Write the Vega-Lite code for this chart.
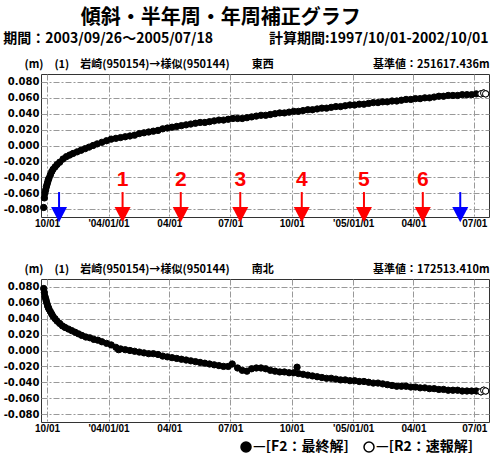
{
  "$schema": "https://vega.github.io/schema/vega-lite/v6.json",
  "padding": {"left": 2, "top": 7, "right": 0, "bottom": 0},
  "background": "white",
  "title": {
    "text": "傾斜・半年周・年周補正グラフ",
    "anchor": "start", "frame": "bounds", "dx": 78,
    "font": "Noto Sans CJK JP", "fontSize": 20, "fontWeight": "bold", "color": "black",
    "offset": 4
  },
  "datasets": {
    "arrows": [
      {"d": "2003-10-19", "k": "edge"},
      {"d": "2004-01-22", "k": "num", "n": "1"},
      {"d": "2004-04-18", "k": "num", "n": "2"},
      {"d": "2004-07-16", "k": "num", "n": "3"},
      {"d": "2004-10-16", "k": "num", "n": "4"},
      {"d": "2005-01-17", "k": "num", "n": "5"},
      {"d": "2005-04-15", "k": "num", "n": "6"},
      {"d": "2005-06-10", "k": "edge"}
    ],
    "ew": [
      {"d":"2003-09-26","v":-0.078,"s":"F2"},{"d":"2003-09-27","v":-0.066,"s":"F2"},{"d":"2003-09-28","v":-0.060,"s":"F2"},{"d":"2003-09-29","v":-0.056,"s":"F2"},{"d":"2003-09-30","v":-0.052,"s":"F2"},{"d":"2003-10-01","v":-0.049,"s":"F2"},{"d":"2003-10-02","v":-0.046,"s":"F2"},{"d":"2003-10-03","v":-0.043,"s":"F2"},{"d":"2003-10-04","v":-0.041,"s":"F2"},{"d":"2003-10-06","v":-0.037,"s":"F2"},{"d":"2003-10-08","v":-0.033,"s":"F2"},{"d":"2003-10-10","v":-0.030,"s":"F2"},{"d":"2003-10-13","v":-0.027,"s":"F2"},{"d":"2003-10-16","v":-0.024,"s":"F2"},{"d":"2003-10-20","v":-0.021,"s":"F2"},{"d":"2003-10-25","v":-0.017,"s":"F2"},{"d":"2003-10-30","v":-0.014,"s":"F2"},{"d":"2003-11-04","v":-0.012,"s":"F2"},{"d":"2003-11-09","v":-0.010,"s":"F2"},{"d":"2003-11-15","v":-0.008,"s":"F2"},{"d":"2003-11-21","v":-0.006,"s":"F2"},{"d":"2003-11-27","v":-0.004,"s":"F2"},{"d":"2003-12-03","v":-0.002,"s":"F2"},{"d":"2003-12-09","v":0.000,"s":"F2"},{"d":"2003-12-15","v":0.002,"s":"F2"},{"d":"2003-12-22","v":0.004,"s":"F2"},{"d":"2003-12-29","v":0.006,"s":"F2"},{"d":"2004-01-05","v":0.008,"s":"F2"},{"d":"2004-01-12","v":0.009,"s":"F2"},{"d":"2004-01-19","v":0.010,"s":"F2"},{"d":"2004-01-26","v":0.011,"s":"F2"},{"d":"2004-02-02","v":0.012,"s":"F2"},{"d":"2004-02-09","v":0.013,"s":"F2"},{"d":"2004-02-16","v":0.015,"s":"F2"},{"d":"2004-02-23","v":0.016,"s":"F2"},{"d":"2004-03-01","v":0.017,"s":"F2"},{"d":"2004-03-08","v":0.018,"s":"F2"},{"d":"2004-03-15","v":0.019,"s":"F2"},{"d":"2004-03-22","v":0.021,"s":"F2"},{"d":"2004-03-29","v":0.022,"s":"F2"},{"d":"2004-04-05","v":0.023,"s":"F2"},{"d":"2004-04-12","v":0.024,"s":"F2"},{"d":"2004-04-19","v":0.025,"s":"F2"},{"d":"2004-04-26","v":0.026,"s":"F2"},{"d":"2004-05-03","v":0.027,"s":"F2"},{"d":"2004-05-10","v":0.028,"s":"F2"},{"d":"2004-05-17","v":0.029,"s":"F2"},{"d":"2004-05-24","v":0.029,"s":"F2"},{"d":"2004-05-31","v":0.030,"s":"F2"},{"d":"2004-06-07","v":0.031,"s":"F2"},{"d":"2004-06-14","v":0.032,"s":"F2"},{"d":"2004-06-21","v":0.032,"s":"F2"},{"d":"2004-06-28","v":0.033,"s":"F2"},{"d":"2004-07-05","v":0.034,"s":"F2"},{"d":"2004-07-12","v":0.034,"s":"F2"},{"d":"2004-07-19","v":0.034,"s":"F2"},{"d":"2004-07-26","v":0.035,"s":"F2"},{"d":"2004-08-02","v":0.036,"s":"F2"},{"d":"2004-08-09","v":0.037,"s":"F2"},{"d":"2004-08-16","v":0.038,"s":"F2"},{"d":"2004-08-23","v":0.038,"s":"F2"},{"d":"2004-08-30","v":0.039,"s":"F2"},{"d":"2004-09-06","v":0.040,"s":"F2"},{"d":"2004-09-13","v":0.041,"s":"F2"},{"d":"2004-09-20","v":0.041,"s":"F2"},{"d":"2004-09-27","v":0.042,"s":"F2"},{"d":"2004-10-04","v":0.043,"s":"F2"},{"d":"2004-10-11","v":0.043,"s":"F2"},{"d":"2004-10-18","v":0.044,"s":"F2"},{"d":"2004-10-25","v":0.045,"s":"F2"},{"d":"2004-11-01","v":0.045,"s":"F2"},{"d":"2004-11-08","v":0.046,"s":"F2"},{"d":"2004-11-15","v":0.047,"s":"F2"},{"d":"2004-11-22","v":0.047,"s":"F2"},{"d":"2004-11-29","v":0.048,"s":"F2"},{"d":"2004-12-06","v":0.049,"s":"F2"},{"d":"2004-12-13","v":0.049,"s":"F2"},{"d":"2004-12-20","v":0.050,"s":"F2"},{"d":"2004-12-27","v":0.051,"s":"F2"},{"d":"2005-01-03","v":0.051,"s":"F2"},{"d":"2005-01-10","v":0.052,"s":"F2"},{"d":"2005-01-17","v":0.052,"s":"F2"},{"d":"2005-01-24","v":0.053,"s":"F2"},{"d":"2005-01-31","v":0.054,"s":"F2"},{"d":"2005-02-07","v":0.054,"s":"F2"},{"d":"2005-02-14","v":0.055,"s":"F2"},{"d":"2005-02-21","v":0.055,"s":"F2"},{"d":"2005-02-28","v":0.056,"s":"F2"},{"d":"2005-03-07","v":0.056,"s":"F2"},{"d":"2005-03-14","v":0.057,"s":"F2"},{"d":"2005-03-21","v":0.058,"s":"F2"},{"d":"2005-03-28","v":0.058,"s":"F2"},{"d":"2005-04-04","v":0.059,"s":"F2"},{"d":"2005-04-11","v":0.059,"s":"F2"},{"d":"2005-04-18","v":0.060,"s":"F2"},{"d":"2005-04-25","v":0.060,"s":"F2"},{"d":"2005-05-02","v":0.061,"s":"F2"},{"d":"2005-05-09","v":0.062,"s":"F2"},{"d":"2005-05-16","v":0.062,"s":"F2"},{"d":"2005-05-23","v":0.063,"s":"F2"},{"d":"2005-05-30","v":0.063,"s":"F2"},{"d":"2005-06-06","v":0.063,"s":"F2"},{"d":"2005-06-13","v":0.064,"s":"F2"},{"d":"2005-06-20","v":0.064,"s":"F2"},{"d":"2005-06-27","v":0.064,"s":"F2"},{"d":"2005-07-04","v":0.065,"s":"F2"},{"d":"2005-07-11","v":0.065,"s":"R2"},{"d":"2005-07-15","v":0.066,"s":"R2"},{"d":"2005-07-18","v":0.065,"s":"R2"}
    ],
    "ns": [
      {"d":"2003-09-26","v":0.078,"s":"F2"},{"d":"2003-09-27","v":0.073,"s":"F2"},{"d":"2003-09-28","v":0.068,"s":"F2"},{"d":"2003-09-29","v":0.065,"s":"F2"},{"d":"2003-09-30","v":0.062,"s":"F2"},{"d":"2003-10-01","v":0.059,"s":"F2"},{"d":"2003-10-02","v":0.056,"s":"F2"},{"d":"2003-10-03","v":0.054,"s":"F2"},{"d":"2003-10-04","v":0.052,"s":"F2"},{"d":"2003-10-06","v":0.049,"s":"F2"},{"d":"2003-10-08","v":0.046,"s":"F2"},{"d":"2003-10-10","v":0.043,"s":"F2"},{"d":"2003-10-13","v":0.040,"s":"F2"},{"d":"2003-10-16","v":0.037,"s":"F2"},{"d":"2003-10-20","v":0.034,"s":"F2"},{"d":"2003-10-24","v":0.031,"s":"F2"},{"d":"2003-10-28","v":0.029,"s":"F2"},{"d":"2003-11-02","v":0.027,"s":"F2"},{"d":"2003-11-07","v":0.025,"s":"F2"},{"d":"2003-11-12","v":0.023,"s":"F2"},{"d":"2003-11-17","v":0.021,"s":"F2"},{"d":"2003-11-22","v":0.019,"s":"F2"},{"d":"2003-11-28","v":0.017,"s":"F2"},{"d":"2003-12-04","v":0.016,"s":"F2"},{"d":"2003-12-10","v":0.014,"s":"F2"},{"d":"2003-12-16","v":0.013,"s":"F2"},{"d":"2003-12-22","v":0.011,"s":"F2"},{"d":"2003-12-29","v":0.009,"s":"F2"},{"d":"2004-01-05","v":0.007,"s":"F2"},{"d":"2004-01-12","v":0.004,"s":"F2"},{"d":"2004-01-16","v":0.001,"s":"F2"},{"d":"2004-01-19","v":0.002,"s":"F2"},{"d":"2004-01-26","v":0.001,"s":"F2"},{"d":"2004-02-02","v":0.000,"s":"F2"},{"d":"2004-02-09","v":-0.001,"s":"F2"},{"d":"2004-02-16","v":-0.002,"s":"F2"},{"d":"2004-02-23","v":-0.003,"s":"F2"},{"d":"2004-03-01","v":-0.004,"s":"F2"},{"d":"2004-03-08","v":-0.004,"s":"F2"},{"d":"2004-03-15","v":-0.005,"s":"F2"},{"d":"2004-03-22","v":-0.007,"s":"F2"},{"d":"2004-03-29","v":-0.008,"s":"F2"},{"d":"2004-04-05","v":-0.009,"s":"F2"},{"d":"2004-04-12","v":-0.010,"s":"F2"},{"d":"2004-04-19","v":-0.011,"s":"F2"},{"d":"2004-04-26","v":-0.012,"s":"F2"},{"d":"2004-05-03","v":-0.013,"s":"F2"},{"d":"2004-05-10","v":-0.014,"s":"F2"},{"d":"2004-05-17","v":-0.015,"s":"F2"},{"d":"2004-05-24","v":-0.016,"s":"F2"},{"d":"2004-05-31","v":-0.017,"s":"F2"},{"d":"2004-06-07","v":-0.018,"s":"F2"},{"d":"2004-06-14","v":-0.019,"s":"F2"},{"d":"2004-06-21","v":-0.020,"s":"F2"},{"d":"2004-06-28","v":-0.020,"s":"F2"},{"d":"2004-07-04","v":-0.017,"s":"F2"},{"d":"2004-07-12","v":-0.022,"s":"F2"},{"d":"2004-07-19","v":-0.025,"s":"F2"},{"d":"2004-07-26","v":-0.026,"s":"F2"},{"d":"2004-08-02","v":-0.023,"s":"F2"},{"d":"2004-08-09","v":-0.022,"s":"F2"},{"d":"2004-08-16","v":-0.022,"s":"F2"},{"d":"2004-08-23","v":-0.023,"s":"F2"},{"d":"2004-08-30","v":-0.025,"s":"F2"},{"d":"2004-09-06","v":-0.026,"s":"F2"},{"d":"2004-09-13","v":-0.027,"s":"F2"},{"d":"2004-09-20","v":-0.027,"s":"F2"},{"d":"2004-09-27","v":-0.028,"s":"F2"},{"d":"2004-10-04","v":-0.028,"s":"F2"},{"d":"2004-10-09","v":-0.021,"s":"F2"},{"d":"2004-10-11","v":-0.029,"s":"F2"},{"d":"2004-10-18","v":-0.030,"s":"F2"},{"d":"2004-10-25","v":-0.031,"s":"F2"},{"d":"2004-11-01","v":-0.032,"s":"F2"},{"d":"2004-11-08","v":-0.033,"s":"F2"},{"d":"2004-11-15","v":-0.034,"s":"F2"},{"d":"2004-11-22","v":-0.035,"s":"F2"},{"d":"2004-11-29","v":-0.035,"s":"F2"},{"d":"2004-12-06","v":-0.036,"s":"F2"},{"d":"2004-12-13","v":-0.037,"s":"F2"},{"d":"2004-12-20","v":-0.037,"s":"F2"},{"d":"2004-12-27","v":-0.038,"s":"F2"},{"d":"2005-01-03","v":-0.038,"s":"F2"},{"d":"2005-01-10","v":-0.039,"s":"F2"},{"d":"2005-01-17","v":-0.039,"s":"F2"},{"d":"2005-01-24","v":-0.040,"s":"F2"},{"d":"2005-01-31","v":-0.041,"s":"F2"},{"d":"2005-02-07","v":-0.041,"s":"F2"},{"d":"2005-02-14","v":-0.042,"s":"F2"},{"d":"2005-02-21","v":-0.043,"s":"F2"},{"d":"2005-02-28","v":-0.044,"s":"F2"},{"d":"2005-03-07","v":-0.045,"s":"F2"},{"d":"2005-03-14","v":-0.045,"s":"F2"},{"d":"2005-03-21","v":-0.045,"s":"F2"},{"d":"2005-03-28","v":-0.046,"s":"F2"},{"d":"2005-04-04","v":-0.046,"s":"F2"},{"d":"2005-04-11","v":-0.047,"s":"F2"},{"d":"2005-04-18","v":-0.047,"s":"F2"},{"d":"2005-04-25","v":-0.048,"s":"F2"},{"d":"2005-05-02","v":-0.048,"s":"F2"},{"d":"2005-05-09","v":-0.049,"s":"F2"},{"d":"2005-05-16","v":-0.049,"s":"F2"},{"d":"2005-05-23","v":-0.050,"s":"F2"},{"d":"2005-05-30","v":-0.050,"s":"F2"},{"d":"2005-06-06","v":-0.050,"s":"F2"},{"d":"2005-06-13","v":-0.051,"s":"F2"},{"d":"2005-06-20","v":-0.051,"s":"F2"},{"d":"2005-06-27","v":-0.051,"s":"F2"},{"d":"2005-07-04","v":-0.051,"s":"F2"},{"d":"2005-07-11","v":-0.052,"s":"R2"},{"d":"2005-07-15","v":-0.050,"s":"R2"},{"d":"2005-07-18","v":-0.051,"s":"R2"}
    ]
  },
  "spacing": 33,
  "vconcat": [
    {
      "width": 448, "height": 143,
      "title": {
        "text": "期間：2003/09/26～2005/07/18　　　　計算期間:1997/10/01-2002/10/01",
        "anchor": "start", "frame": "bounds", "offset": 12,
        "font": "Noto Sans CJK JP", "fontSize": 14, "fontWeight": "bold", "color": "black"
      },
      "resolve": {"axis": {"y": "independent"}},
      "layer": [
        {
          "data": {"name": "ew"},
          "mark": {"type": "point", "filled": true, "size": 40, "stroke": "black", "strokeWidth": 1, "opacity": 1},
          "encoding": {
            "x": {"field": "d", "type": "temporal", "title": null,
              "scale": {"type": "utc", "domain": [{"year": 2003, "month": 9, "date": 22, "utc": true}, {"year": 2005, "month": 7, "date": 23, "utc": true}]},
              "axis": {
                "values": [{"year":2003,"month":10,"date":1,"utc":true},{"year":2004,"month":1,"date":1,"utc":true},{"year":2004,"month":4,"date":1,"utc":true},{"year":2004,"month":7,"date":1,"utc":true},{"year":2004,"month":10,"date":1,"utc":true},{"year":2005,"month":1,"date":1,"utc":true},{"year":2005,"month":4,"date":1,"utc":true},{"year":2005,"month":7,"date":1,"utc":true}],
                "labelExpr": "utcmonth(datum.value) == 0 ? \"'\" + utcFormat(datum.value, '%y/%m/%d') : utcFormat(datum.value, '%m/%d')",
                "labelFont": "Liberation Sans", "labelFontSize": 10, "labelFontWeight": "bold", "labelColor": "black",
                "ticks": false, "labelPadding": 1, "domain": false, "labelFlush": false, "labelOverlap": false,
                "grid": true, "gridColor": "#999999", "gridDash": [6, 2, 2, 2], "gridWidth": 1
              }
            },
            "y": {"field": "v", "type": "quantitative",
              "scale": {"domain": [-0.09, 0.09], "nice": false, "zero": false},
              "axis": {
                "values": [-0.08, -0.06, -0.04, -0.02, 0, 0.02, 0.04, 0.06, 0.08],
                "labelExpr": "replace(format(datum.value, '.3f'), '−', '-')",
                "labelFont": "DejaVu Sans", "labelFontSize": 10, "labelFontWeight": "bold", "labelColor": "black",
                "ticks": false, "labelPadding": 2, "domain": false,
                "grid": true, "gridColor": "#999999", "gridDash": [6, 2, 2, 2], "gridWidth": 1,
                "title": "(m)　(1)　岩崎(950154)→様似(950144)　　東西",
                "titleAngle": 0, "titleAlign": "left", "titleBaseline": "middle", "titleX": -17, "titleY": -10,
                "titleFont": "Noto Sans CJK JP", "titleFontSize": 11, "titleFontWeight": "bold", "titleColor": "black"
              }
            },
            "fill": {"field": "s", "type": "nominal",
              "scale": {"domain": ["F2", "R2"], "range": ["black", "white"]},
              "legend": {
                "orient": "none", "legendX": 198, "legendY": 366, "direction": "horizontal", "title": null,
                "symbolType": "circle", "symbolSize": 100, "symbolStrokeColor": "black", "symbolStrokeWidth": 1.5,
                "labelFont": "Noto Sans CJK JP", "labelFontSize": 14, "labelFontWeight": "bold", "labelColor": "black",
                "labelExpr": "datum.label == 'F2' ? '—[F2：最終解]' : '—[R2：速報解]'",
                "columnPadding": 12, "labelOffset": 0
              }
            }
          }
        },
        {
          "data": {"name": "ew"},
          "transform": [{"filter": "datum.s == 'R2'"}],
          "mark": {"type": "point", "filled": true, "fill": "white", "size": 40, "stroke": "black", "strokeWidth": 1, "opacity": 1},
          "encoding": {
            "x": {"field": "d", "type": "temporal", "title": null},
            "y": {"field": "v", "type": "quantitative",
              "axis": {
                "orient": "right", "labels": false, "ticks": false, "domain": false, "grid": false,
                "title": "基準値：251617.436m",
                "titleAngle": 0, "titleAlign": "right", "titleBaseline": "middle", "titleX": 0, "titleY": -10,
                "titleFont": "Noto Sans CJK JP", "titleFontSize": 11, "titleFontWeight": "bold", "titleColor": "black"
              }
            }
          }
        },
        {
          "data": {"name": "arrows"},
          "mark": {"type": "rule", "strokeWidth": 2},
          "encoding": {
            "x": {"field": "d", "type": "temporal", "title": null},
            "y": {"datum": -0.0586, "axis": null},
            "y2": {"datum": -0.0787},
            "color": {"field": "k", "type": "nominal", "scale": {"domain": ["num", "edge"], "range": ["#ff0000", "#0000ff"]}, "legend": null}
          }
        },
        {
          "data": {"name": "arrows"},
          "mark": {"type": "point", "shape": "M-1,-0.95L1,-0.95L0,0.95Z", "size": 256, "filled": true, "opacity": 1, "strokeWidth": 0},
          "encoding": {
            "x": {"field": "d", "type": "temporal", "title": null},
            "y": {"datum": -0.0869, "axis": null},
            "color": {"field": "k", "type": "nominal", "legend": null}
          }
        },
        {
          "data": {"name": "arrows"},
          "transform": [{"filter": "datum.k == 'num'"}],
          "mark": {"type": "text", "font": "Liberation Sans", "fontSize": 21, "fontWeight": "bold", "color": "#ff0000", "baseline": "middle"},
          "encoding": {
            "x": {"field": "d", "type": "temporal", "title": null},
            "y": {"datum": -0.0434, "axis": null},
            "text": {"field": "n"}
          }
        }
      ]
    },
    {
      "width": 448, "height": 143,
      "resolve": {"axis": {"y": "independent"}},
      "layer": [
        {
          "data": {"name": "ns"},
          "mark": {"type": "point", "filled": true, "size": 40, "stroke": "black", "strokeWidth": 1, "opacity": 1},
          "encoding": {
            "x": {"field": "d", "type": "temporal", "title": null,
              "scale": {"type": "utc", "domain": [{"year": 2003, "month": 9, "date": 22, "utc": true}, {"year": 2005, "month": 7, "date": 23, "utc": true}]},
              "axis": {
                "values": [{"year":2003,"month":10,"date":1,"utc":true},{"year":2004,"month":1,"date":1,"utc":true},{"year":2004,"month":4,"date":1,"utc":true},{"year":2004,"month":7,"date":1,"utc":true},{"year":2004,"month":10,"date":1,"utc":true},{"year":2005,"month":1,"date":1,"utc":true},{"year":2005,"month":4,"date":1,"utc":true},{"year":2005,"month":7,"date":1,"utc":true}],
                "labelExpr": "utcmonth(datum.value) == 0 ? \"'\" + utcFormat(datum.value, '%y/%m/%d') : utcFormat(datum.value, '%m/%d')",
                "labelFont": "Liberation Sans", "labelFontSize": 10, "labelFontWeight": "bold", "labelColor": "black",
                "ticks": false, "labelPadding": 1, "domain": false, "labelFlush": false, "labelOverlap": false,
                "grid": true, "gridColor": "#999999", "gridDash": [6, 2, 2, 2], "gridWidth": 1
              }
            },
            "y": {"field": "v", "type": "quantitative",
              "scale": {"domain": [-0.09, 0.09], "nice": false, "zero": false},
              "axis": {
                "values": [-0.08, -0.06, -0.04, -0.02, 0, 0.02, 0.04, 0.06, 0.08],
                "labelExpr": "replace(format(datum.value, '.3f'), '−', '-')",
                "labelFont": "DejaVu Sans", "labelFontSize": 10, "labelFontWeight": "bold", "labelColor": "black",
                "ticks": false, "labelPadding": 2, "domain": false,
                "grid": true, "gridColor": "#999999", "gridDash": [6, 2, 2, 2], "gridWidth": 1,
                "title": "(m)　(1)　岩崎(950154)→様似(950144)　　南北",
                "titleAngle": 0, "titleAlign": "left", "titleBaseline": "middle", "titleX": -17, "titleY": -10,
                "titleFont": "Noto Sans CJK JP", "titleFontSize": 11, "titleFontWeight": "bold", "titleColor": "black"
              }
            },
            "fill": {"field": "s", "type": "nominal"}
          }
        },
        {
          "data": {"name": "ns"},
          "transform": [{"filter": "datum.s == 'R2'"}],
          "mark": {"type": "point", "filled": true, "fill": "white", "size": 40, "stroke": "black", "strokeWidth": 1, "opacity": 1},
          "encoding": {
            "x": {"field": "d", "type": "temporal", "title": null},
            "y": {"field": "v", "type": "quantitative",
              "axis": {
                "orient": "right", "labels": false, "ticks": false, "domain": false, "grid": false,
                "title": "基準値：172513.410m",
                "titleAngle": 0, "titleAlign": "right", "titleBaseline": "middle", "titleX": 0, "titleY": -10,
                "titleFont": "Noto Sans CJK JP", "titleFontSize": 11, "titleFontWeight": "bold", "titleColor": "black"
              }
            }
          }
        }
      ]
    }
  ],
  "config": {
    "font": "Noto Sans CJK JP",
    "view": {"stroke": "#333333", "strokeWidth": 1}
  }
}
